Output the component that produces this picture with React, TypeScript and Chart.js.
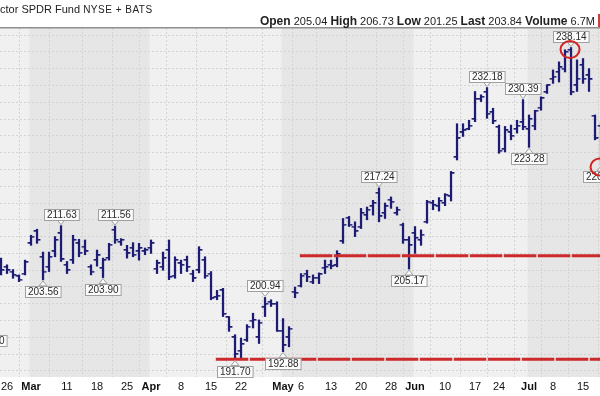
import React, { useEffect, useRef } from "react";
import { Chart, registerables } from "chart.js";

Chart.register(...registerables);

// ---------- data ----------
const dates = [
  "Feb 21", "Feb 22", "Feb 23", "Feb 26", "Feb 27", "Feb 28", "Feb 29",
  "Mar 1", "Mar 4", "Mar 5", "Mar 6", "Mar 7", "Mar 8", "Mar 11", "Mar 12", "Mar 13", "Mar 14", "Mar 15",
  "Mar 18", "Mar 19", "Mar 20", "Mar 21", "Mar 22", "Mar 25", "Mar 26", "Mar 27", "Mar 28",
  "Apr 1", "Apr 2", "Apr 3", "Apr 4", "Apr 5", "Apr 8", "Apr 9", "Apr 10", "Apr 11", "Apr 12",
  "Apr 15", "Apr 16", "Apr 17", "Apr 18", "Apr 19", "Apr 22", "Apr 23", "Apr 24", "Apr 25", "Apr 26", "Apr 29", "Apr 30",
  "May 1", "May 2", "May 3", "May 6", "May 7", "May 8", "May 9", "May 10", "May 13", "May 14", "May 15", "May 16", "May 17",
  "May 20", "May 21", "May 22", "May 23", "May 24", "May 28", "May 29", "May 30", "May 31",
  "Jun 3", "Jun 4", "Jun 5", "Jun 6", "Jun 7", "Jun 10", "Jun 11", "Jun 12", "Jun 13", "Jun 14",
  "Jun 17", "Jun 18", "Jun 20", "Jun 21", "Jun 24", "Jun 25", "Jun 26", "Jun 27", "Jun 28",
  "Jul 1", "Jul 2", "Jul 3", "Jul 5", "Jul 8", "Jul 9", "Jul 10", "Jul 11", "Jul 12", "Jul 15", "Jul 16", "Jul 17", "Jul 18",
];

const opens = [
  197.6, 203.0, 206.0, 205.5, 204.8, 204.1, 204.5,
  209.0, 210.8, 207.0, 205.5, 207.8, 210.5, 205.8, 206.5, 209.0, 208.5, 205.5,
  206.5, 205.3, 206.8, 211.0, 209.2, 208.0, 208.3, 207.8, 207.8,
  208.3, 205.2, 205.5, 208.0, 204.2, 206.0, 206.5, 204.5, 205.0, 206.5,
  204.5, 201.0, 202.0, 198.0, 195.0, 193.0, 194.6, 197.5, 195.0, 199.5, 200.3, 200.0,
  196.0, 195.0, 201.8, 202.7, 204.5, 203.3, 203.9, 205.4, 205.8, 205.7, 209.3, 212.8, 211.5,
  211.5, 213.2, 214.5, 216.5, 213.5, 215.5, 213.5, 211.8, 209.5,
  210.5, 209.5, 212.2, 215.0, 214.5, 215.0, 216.0, 221.8, 225.5, 226.0,
  227.5, 230.5, 231.5, 228.5, 226.3, 223.0, 225.5, 226.0, 227.0,
  226.0, 226.5, 229.2, 231.5, 233.5, 234.5, 235.0, 237.8, 232.5, 235.5, 234.0, 228.0, 226.5,
];

const highs = [
  198.4, 205.8, 206.8, 205.8, 205.1, 204.3, 206.5,
  210.2, 211.1, 207.7, 207.7, 210.0, 211.63, 206.3, 210.2, 209.6, 209.5, 205.8,
  208.0, 206.8, 209.0, 211.56, 209.7, 208.7, 209.1, 209.0, 208.3,
  209.5, 206.5, 207.7, 209.5, 207.0, 206.5, 207.1, 205.0, 208.5, 207.0,
  204.8, 202.0, 202.3, 198.1, 195.4, 194.9, 196.9, 198.6, 197.6, 200.94, 200.6, 200.3,
  197.8, 196.6, 202.5, 204.5, 205.0, 204.3, 204.6, 206.5, 206.5, 207.9, 212.7, 213.0, 212.2,
  214.2, 214.4, 215.4, 217.24, 215.0, 215.9, 214.4, 212.0, 210.0,
  211.5, 211.0, 215.4, 215.4, 215.8, 216.4, 219.7, 226.8, 226.8, 227.3,
  231.6, 231.1, 232.18, 229.1, 226.6, 226.4, 226.6, 227.3, 230.39,
  228.1, 228.8, 230.8, 232.6, 234.8, 236.0, 237.8, 238.14, 236.3, 236.5, 235.0, 228.1, 227.0,
];

const lows = [
  196.3, 202.6, 204.3, 204.5, 203.8, 203.3, 204.3,
  208.7, 209.0, 203.56, 204.8, 207.0, 206.3, 204.5, 206.0, 207.0, 207.3, 204.3,
  205.6, 203.9, 206.5, 209.0, 208.7, 206.8, 207.0, 206.5, 207.3,
  207.5, 204.5, 205.0, 203.6, 203.8, 204.5, 204.8, 203.3, 204.6, 203.8,
  200.6, 200.6, 198.1, 195.9, 191.7, 191.9, 194.4, 196.4, 194.1, 198.1, 199.6, 195.9,
  192.88, 193.6, 200.9, 202.5, 203.3, 203.0, 203.0, 204.5, 205.2, 205.5, 209.0, 211.5, 210.0,
  211.2, 212.5, 213.2, 212.2, 212.7, 214.2, 213.2, 209.0, 205.17,
  207.5, 208.7, 212.0, 214.0, 213.8, 214.6, 215.3, 221.4, 224.9, 225.9,
  227.1, 230.1, 227.6, 226.8, 222.4, 222.6, 224.4, 225.4, 225.9,
  223.28, 225.9, 228.8, 231.3, 232.8, 233.0, 234.5, 231.1, 231.6, 232.8, 231.6, 224.4, 220.65,
];

const closes = [
  198.1, 205.3, 205.0, 205.0, 204.3, 203.6, 206.2,
  210.0, 209.5, 204.8, 207.0, 209.5, 206.6, 205.0, 209.5, 207.6, 207.8, 204.8,
  207.2, 206.5, 208.8, 209.5, 209.5, 207.5, 207.3, 208.3, 208.0,
  209.0, 206.0, 206.8, 204.0, 206.5, 205.8, 205.5, 203.8, 208.0, 204.2,
  200.8, 201.2, 198.5, 196.5, 192.5, 194.0, 196.6, 197.6, 197.2, 200.0, 200.0, 196.0,
  193.8, 196.3, 201.6, 204.2, 204.0, 203.9, 204.4, 205.5, 205.6, 207.4, 211.8, 211.8, 210.8,
  213.5, 214.0, 215.0, 213.0, 214.5, 215.2, 214.0, 209.5, 208.7,
  209.8, 210.3, 215.2, 214.7, 215.3, 216.2, 219.4, 224.6, 225.8, 226.5,
  230.5, 230.8, 228.3, 227.2, 222.8, 225.8, 225.0, 226.5, 226.3,
  227.5, 228.7, 230.6, 232.5, 233.8, 235.2, 237.5, 231.5, 233.5, 233.5, 233.4, 224.6, 221.5,
];

const FIRST_X = -2; // x position of dates[0]

const tickDates = ["Feb 26", "Mar 1", "Mar 11", "Mar 18", "Mar 25", "Apr 1", "Apr 8", "Apr 15", "Apr 22",
  "May 1", "May 6", "May 13", "May 20", "May 28", "Jun 3", "Jun 10", "Jun 17", "Jun 24", "Jul 1", "Jul 8", "Jul 15"];
const tickLabels = ["26", "Mar", "11", "18", "25", "Apr", "8", "15", "22",
  "May", "6", "13", "20", "28", "Jun", "10", "17", "24", "Jul", "8", "15"];
const monthStartDates = ["Mar 1", "Apr 1", "May 1", "Jun 3", "Jul 1"];
const shadedMonths = ["Mar 1", "May 1", "Jul 1"];

const noteDates = ["Feb 21", "Mar 5", "Mar 8", "Mar 19", "Mar 21", "Apr 19", "Apr 26", "May 1", "May 23", "May 31",
  "Jun 20", "Jun 28", "Jul 1", "Jul 11", "Jul 18"];
const noteValues = [196.3, 203.56, 211.63, 203.9, 211.56, 191.7, 200.94, 192.88, 217.24, 205.17,
  232.18, 230.39, 223.28, 238.14, 220.65];
const noteSides = ["low", "low", "high", "low", "high", "low", "high", "low", "high", "low",
  "high", "high", "low", "high", "low"];
const circledDates = ["Jul 11", "Jul 18"];

const levelValues = [207.16, 191.74];
const levelStartDates = ["May 6", "Apr 16"];

const yGridValues = [190, 192.5, 195, 197.5, 200, 202.5, 205, 207.5, 210, 212.5, 215, 217.5, 220, 222.5,
  225, 227.5, 230, 232.5, 235, 237.5, 240];

const X_MIN = -0.17;
const X_MAX = 99.83;
const Y_MIN = 189.107;
const Y_MAX = 241.042;

const FONT = "'Liberation Sans', Arial, Helvetica, sans-serif";
const BAR_COLOR = "#1c1c74";
const RED = "#cc2a2a";
const GRID = "#d3d3d3";

const xOf = (d: string) => dates.indexOf(d) + FIRST_X;

function makeTick(side: "open" | "close") {
  const c = document.createElement("canvas");
  c.width = 8;
  c.height = 2;
  const g = c.getContext("2d")!;
  g.fillStyle = BAR_COLOR;
  if (side === "open") g.fillRect(0.6, 0, 3.4, 1.6);
  else g.fillRect(4, 0, 3.4, 1.6);
  return c;
}

const bgPlugin = {
  id: "bands",
  beforeDraw(chart: any) {
    const { ctx, chartArea, scales } = chart;
    ctx.save();
    ctx.fillStyle = "#ffffff";
    ctx.fillRect(0, 0, chart.width, chart.height);
    ctx.fillStyle = "#f0f0f0";
    ctx.fillRect(chartArea.left, chartArea.top, chartArea.right - chartArea.left, chartArea.bottom - chartArea.top);
    ctx.fillStyle = "#e6e6e6";
    shadedMonths.forEach((m) => {
      const k = monthStartDates.indexOf(m);
      const start = scales.x.getPixelForValue(xOf(m) - 0.25);
      const endIdx = k + 1 < monthStartDates.length ? xOf(monthStartDates[k + 1]) - 0.25 : X_MAX + 2;
      const end = Math.min(scales.x.getPixelForValue(endIdx), chartArea.right);
      ctx.fillRect(start, chartArea.top, end - start, chartArea.bottom - chartArea.top);
    });
    ctx.restore();
  },
  afterDraw(chart: any) {
    const { ctx, chartArea } = chart;
    ctx.save();
    ctx.strokeStyle = "#8f8f8f";
    ctx.lineWidth = 1.5;
    ctx.beginPath();
    ctx.moveTo(0, chartArea.top - 0.25);
    ctx.lineTo(chart.width, chartArea.top - 0.25);
    ctx.stroke();
    ctx.restore();
  },
};

const notePlugin = {
  id: "notes",
  afterDatasetsDraw(chart: any) {
    const { ctx, scales } = chart;
    ctx.save();
    ctx.font = `10px ${FONT}`;
    ctx.textAlign = "center";
    ctx.textBaseline = "middle";
    noteDates.forEach((d, k) => {
      const x = scales.x.getPixelForValue(xOf(d));
      const y = scales.y.getPixelForValue(noteValues[k]);
      const text = noteValues[k].toFixed(2);
      const w = ctx.measureText(text).width + 5;
      const h = 11;
      const high = noteSides[k] === "high";
      const boxTop = high ? y - 6 - h : y + 6;
      const edge = high ? boxTop + h : boxTop;
      ctx.fillStyle = "#fbfbfb";
      ctx.strokeStyle = "#a0a0a0";
      ctx.lineWidth = 1;
      ctx.beginPath();
      ctx.moveTo(x - 4, edge);
      ctx.lineTo(x, high ? y - 1 : y + 1);
      ctx.lineTo(x + 4, edge);
      ctx.closePath();
      ctx.fill();
      ctx.stroke();
      const bx = Math.round(x - w / 2) + 0.5;
      const by = Math.round(boxTop) + 0.5;
      ctx.fillRect(bx, by, w, h);
      ctx.strokeRect(bx, by, w, h);
      ctx.fillStyle = "#2a2a2a";
      ctx.fillText(text, bx + w / 2, by + h / 2 + 0.5);
    });
    ctx.strokeStyle = "#d22222";
    ctx.lineWidth = 2;
    circledDates.forEach((d) => {
      const k = noteDates.indexOf(d);
      const x = scales.x.getPixelForValue(xOf(d));
      const y = scales.y.getPixelForValue(noteValues[k]);
      ctx.beginPath();
      ctx.ellipse(x - 1, y + 2, 9.5, 8.5, 0, 0, Math.PI * 2);
      ctx.stroke();
    });
    ctx.restore();
  },
};

export default function App() {
  const ref = useRef<HTMLCanvasElement>(null);

  useEffect(() => {
    if (!ref.current) return;
    const openImg = makeTick("open");
    const closeImg = makeTick("close");
    const xs = dates.map((_, i) => i + FIRST_X);
    const monthX = new Set(monthStartDates.map(xOf));
    const tickX = tickDates.map(xOf);

    const chart = new Chart(ref.current, {
      type: "bar",
      data: {
        datasets: [
          {
            type: "bar",
            data: xs.map((x, i) => ({ x, y: [lows[i], highs[i]] })) as any,
            backgroundColor: BAR_COLOR,
            borderWidth: 0,
            barThickness: 1.6,
            order: 3,
          } as any,
          {
            type: "line",
            data: xs.map((x, i) => ({ x, y: opens[i] })),
            showLine: false,
            pointStyle: openImg as any,
            pointRadius: 3,
            order: 2,
          },
          {
            type: "line",
            data: xs.map((x, i) => ({ x, y: closes[i] })),
            showLine: false,
            pointStyle: closeImg as any,
            pointRadius: 3,
            order: 2,
          },
          ...levelValues.map((v, k) => ({
            type: "line" as const,
            data: [
              { x: xOf(levelStartDates[k]) - 0.2, y: v },
              { x: X_MAX + 3, y: v },
            ],
            borderColor: RED,
            borderWidth: 3,
            borderDash: [32.5, 1.5],
            pointRadius: 0,
            order: 1,
          })),
        ],
      },
      options: {
        animation: false,
        responsive: false,
        events: [],
        layout: { padding: { top: 28, left: 0, right: 0, bottom: 0 }, autoPadding: false },
        plugins: { legend: { display: false }, tooltip: { enabled: false }, title: { display: false } },
        scales: {
          x: {
            type: "linear",
            min: X_MIN,
            max: X_MAX,
            offset: false,
            afterBuildTicks: (axis: any) => {
              axis.ticks = tickX.map((v) => ({ value: v }));
            },
            afterFit: (axis: any) => {
              axis.height = 19;
              axis.paddingLeft = 0;
              axis.paddingRight = 0;
            },
            grid: { color: GRID, lineWidth: 1, drawTicks: false },
            border: { display: false, dash: [2, 2] },
            ticks: {
              autoSkip: false,
              maxRotation: 0,
              padding: 3,
              color: "#111111",
              font: (ctx: any) => ({
                family: FONT,
                size: 11,
                weight: ctx.tick && monthX.has(ctx.tick.value) ? "bold" : "normal",
              }),
              callback: (value: any) => {
                const k = tickX.indexOf(Number(value));
                return k >= 0 ? tickLabels[k] : "";
              },
            },
          },
          y: {
            type: "linear",
            min: Y_MIN,
            max: Y_MAX,
            afterBuildTicks: (axis: any) => {
              axis.ticks = yGridValues.map((v) => ({ value: v }));
            },
            afterFit: (axis: any) => {
              axis.width = 0;
            },
            grid: { color: GRID, lineWidth: 1, drawTicks: false },
            border: { display: false, dash: [2, 2] },
            ticks: { display: false },
          },
        },
      } as any,
      plugins: [bgPlugin, notePlugin],
    });
    return () => chart.destroy();
  }, []);

  return (
    <div
      style={{
        position: "fixed",
        left: 0,
        top: 0,
        width: 600,
        height: 396,
        overflow: "hidden",
        background: "#fff",
        fontFamily: FONT,
      }}
    >
      <canvas ref={ref} width={600} height={396} style={{ position: "absolute", left: 0, top: 0 }} />
      <div
        style={{
          position: "absolute",
          left: 0,
          top: 3,
          fontSize: 11,
          color: "#222",
          whiteSpace: "nowrap",
          lineHeight: "13px",
        }}
      >
        ctor SPDR Fund <span style={{ fontSize: 10, letterSpacing: 0.5 }}>NYSE + BATS</span>
      </div>
      <div
        style={{
          position: "absolute",
          right: 5,
          top: 14,
          fontSize: 11,
          color: "#222",
          whiteSpace: "nowrap",
          lineHeight: "14px",
        }}
      >
        <b style={{ fontSize: 12 }}>Open</b> 205.04 <b style={{ fontSize: 12 }}>High</b> 206.73{" "}
        <b style={{ fontSize: 12 }}>Low</b> 201.25 <b style={{ fontSize: 12 }}>Last</b> 203.84{" "}
        <b style={{ fontSize: 12 }}>Volume</b> 6.7M
      </div>
      <div style={{ position: "absolute", left: 598, top: 14, width: 2, height: 13, background: "#c84040" }} />
    </div>
  );
}
